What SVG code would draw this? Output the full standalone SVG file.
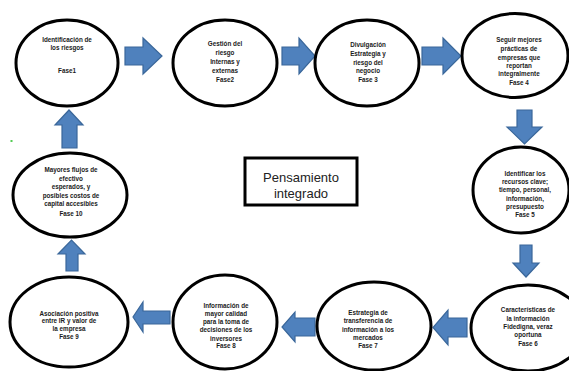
<svg xmlns="http://www.w3.org/2000/svg" width="569" height="371" viewBox="0 0 569 371">
<style>
.n ellipse{fill:#fff;stroke:#000;stroke-width:3}
.n text{font-family:"Liberation Sans",Arial,sans-serif;font-weight:bold;font-size:6.3px;fill:#1a1a1a;text-anchor:middle}
.a polygon{fill:#4F81BD;stroke:#3A679A;stroke-width:1.2;stroke-linejoin:miter}
.c text{font-family:"Liberation Sans",Arial,sans-serif;font-size:13px;fill:#222;text-anchor:middle}
</style>
<rect width="569" height="371" fill="#fff"/>
<rect x="10.5" y="140" width="2" height="2" fill="#5c5"/>
<g id="connectors" class="a">
<polygon points="125,47 143,47 143,38 162,56 143,74 143,65 125,65"/>
<polygon points="282,47 299,47 299,38 315,56 299,74 299,65 282,65"/>
<polygon points="422,47 443,47 443,38 461,56 443,74 443,65 422,65"/>
<polygon points="517,110 532,110 532,127 542,127 524.5,144 507,127 517,127"/>
<polygon points="520,245 532,245 532,263 539,263 526,277 513,263 520,263"/>
<polygon points="467,318 448,318 448,310 433,327.5 448,345 448,337 467,337"/>
<polygon points="315,318 295,318 295,312 282,327 295,342 295,336 315,336"/>
<polygon points="170,311 143,311 143,302 133,317 143,332 143,324 170,324"/>
<polygon points="66,271 78,271 78,254 85,254 71.5,240 58,254 66,254"/>
<polygon points="62,148 77,148 77,125 83,125 69,110 55,125 62,125"/>
</g>
<g id="n1" class="n"><ellipse cx="67" cy="63" rx="51" ry="43"/>
<text x="67" y="41.5">Identificación de</text><text x="67" y="50">los riesgos</text><text x="67" y="73.3">Fase1</text></g>
<g id="n2" class="n"><ellipse cx="225" cy="63" rx="52" ry="43"/>
<text x="225" y="45.6">Gestión  del</text><text x="225" y="55">riesgo</text><text x="225" y="64">Internas y</text><text x="225" y="73.3">externas</text><text x="225" y="82.3">Fase2</text></g>
<g id="n3" class="n"><ellipse cx="367" cy="63" rx="52" ry="43"/>
<text x="368" y="46.6">Divulgación</text><text x="368" y="55.6">Estrategia y</text><text x="368" y="64.6">riesgo del</text><text x="368" y="73.3">negocio</text><text x="368" y="82.3">Fase 3</text></g>
<g id="n4" class="n"><ellipse cx="515" cy="55.5" rx="53" ry="42"/>
<text x="519" y="41.6">Seguir mejores</text><text x="519" y="50.6">prácticas de</text><text x="519" y="59.6">empresas que</text><text x="519" y="68">reportan</text><text x="519" y="76.3">integralmente</text><text x="519" y="85">Fase 4</text></g>
<g id="n5" class="n"><ellipse cx="521" cy="190" rx="48" ry="43"/>
<text x="525" y="175.6">Identificar los</text><text x="525" y="184">recursos clave;</text><text x="525" y="192.3">tiempo, personal,</text><text x="525" y="200.6">información,</text><text x="525" y="208.6">presupuesto</text><text x="525" y="217">Fase 5</text></g>
<g id="n6" class="n"><ellipse cx="528" cy="328" rx="57" ry="43"/>
<text x="528" y="312.3">Características de</text><text x="528" y="320.6">la información</text><text x="528" y="329">Fidedigna, veraz</text><text x="528" y="337.3">oportuna</text><text x="528" y="345.6">Fase 6</text></g>
<g id="n7" class="n"><ellipse cx="374" cy="326" rx="57" ry="44"/>
<text x="368" y="315">Estrategia de</text><text x="368" y="323.3">transferencia de</text><text x="368" y="331.6">información a los</text><text x="368" y="340">mercados</text><text x="368" y="348.3">Fase 7</text></g>
<g id="n8" class="n"><ellipse cx="225" cy="322" rx="52" ry="47"/>
<text x="226" y="308">Información de</text><text x="226" y="315.6">mayor  calidad</text><text x="226" y="324">para la toma de</text><text x="226" y="332.3">decisiones de los</text><text x="226" y="340.6">inversores</text><text x="226" y="348.3">Fase  8</text></g>
<g id="n9" class="n"><ellipse cx="69" cy="322" rx="59" ry="45"/>
<text x="69" y="315.6">Asociación positiva</text><text x="69" y="323">entre IR y valor de</text><text x="69" y="330.6">la empresa</text><text x="69" y="339">Fase 9</text></g>
<g id="n10" class="n"><ellipse cx="70" cy="195" rx="57" ry="42"/>
<text x="71" y="171.6">Mayores flujos de</text><text x="71" y="180.6">efectivo</text><text x="71" y="189">esperados, y</text><text x="71" y="198">posibles costos de</text><text x="71" y="206.3">capital accesibles</text><text x="71" y="215.6">Fase 10</text></g>
<g id="center" class="c"><rect x="245" y="158" width="112" height="47" fill="#fff" stroke="#000" stroke-width="3"/>
<text x="301" y="181.5">Pensamiento</text><text x="301" y="197.5">integrado</text></g>
</svg>
